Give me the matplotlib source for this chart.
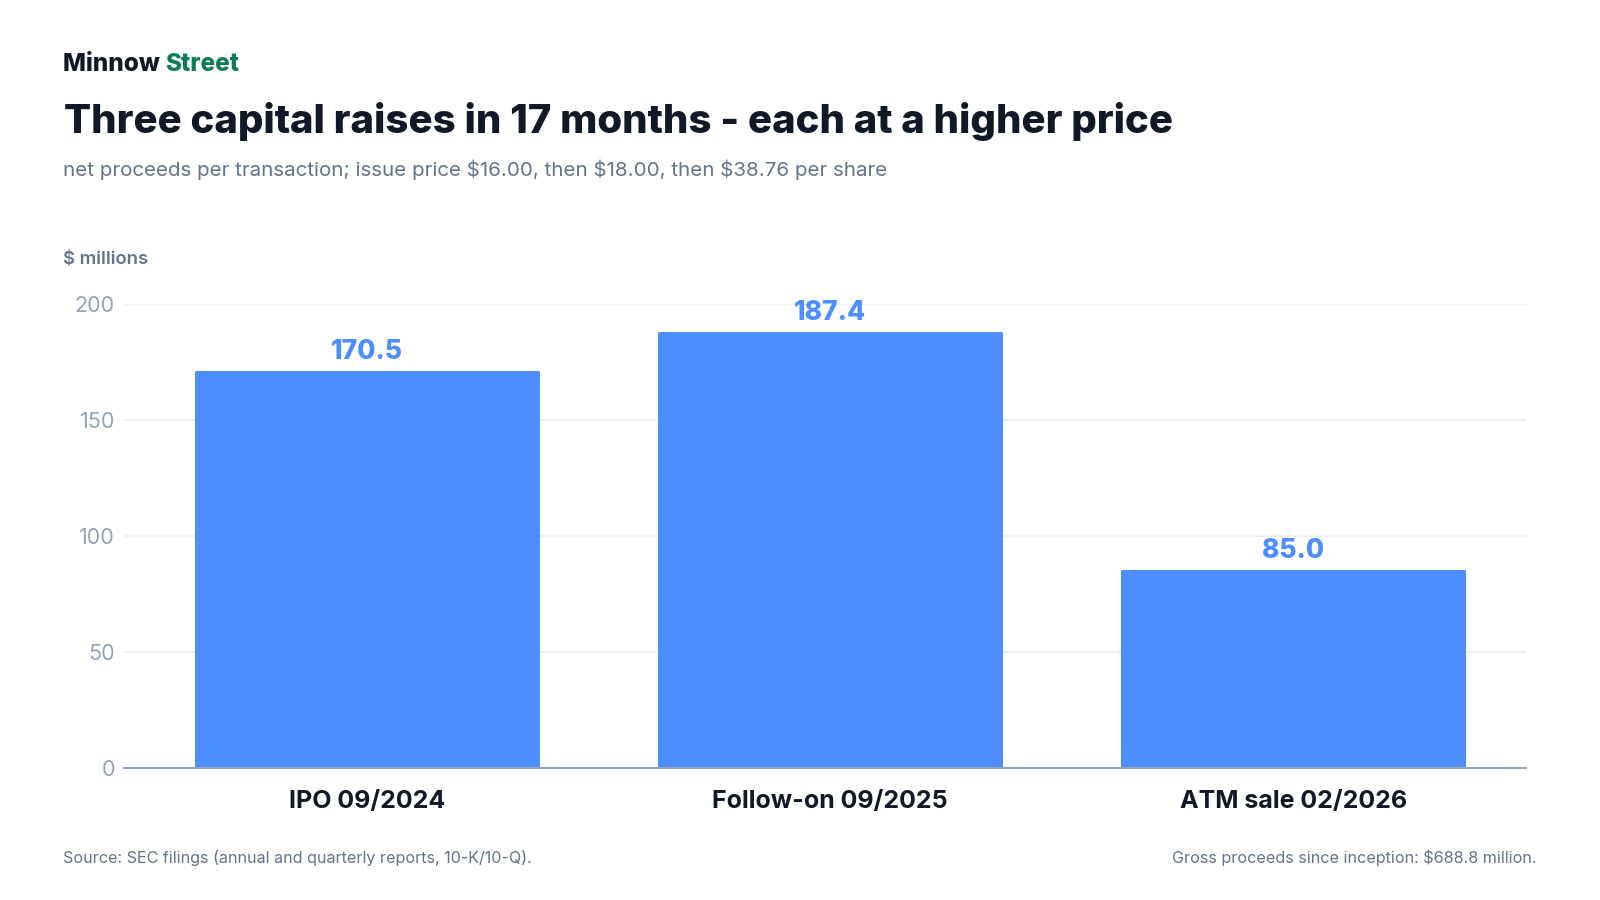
import matplotlib.pyplot as plt
import numpy as np

# data
categories = ['IPO 09/2024', 'Follow-on 09/2025', 'ATM sale 02/2026']
proceeds = [170.5, 187.4, 85.0]
value_labels = ['170.5', '187.4', '85.0']
y_ticks = [0, 50, 100, 150, 200]

blue = '#4c8dff'
dark = '#111827'
slate = '#64748b'
light = '#94a3b8'
green = '#0f7b5a'

plt.rcParams['font.family'] = ['Inter', 'DejaVu Sans']

fig = plt.figure(figsize=(16, 9), dpi=100)
fig.patch.set_facecolor('white')

W, H = 1600, 900
def fy(px):
    return 1 - px / H

# axes placed in pixels: x 124..1526, y 304..768
ax = fig.add_axes([124 / W, (H - 768) / H, (1526 - 124) / W, (768 - 304) / H])

x = np.arange(len(categories))
ax.bar(x, proceeds, width=0.738, color=blue, edgecolor=blue, linewidth=2.2,
       joinstyle='round', zorder=2)

ax.set_xlim(-0.525, 2.503)
ax.set_ylim(0, 200)
ax.set_yticks(y_ticks)
ax.set_yticklabels([str(t) for t in y_ticks])
ax.set_xticks([])
ax.tick_params(axis='y', length=0, pad=6.5, labelsize=15.5, labelcolor=light)

ax.grid(axis='y', color='#e9edf2', linewidth=1.2, zorder=0)
ax.set_axisbelow(True)
for s in ['top', 'right', 'left']:
    ax.spines[s].set_visible(False)
ax.spines['bottom'].set_color(light)
ax.spines['bottom'].set_linewidth(1.5)
ax.spines['bottom'].set_zorder(3)

for i, v in enumerate(proceeds):
    ax.annotate(value_labels[i], xy=(i, v), xytext=(0, 9.5), textcoords='offset points',
                ha='center', va='baseline', fontsize=19, fontweight=800, color=blue)
    ax.annotate(categories[i], xy=(i, 0), xycoords=('data', 'axes fraction'),
                xytext=(0, -29), textcoords='offset points',
                ha='center', va='baseline', fontsize=18, fontweight='bold', color=dark)

# header
t1 = fig.text(63 / W, fy(71), 'Minnow ', fontsize=17.5, fontweight=800, color=dark,
              va='baseline', ha='left')
fig.canvas.draw()
bb = t1.get_window_extent()
fig.text(bb.x1 / W, fy(71), 'Street', fontsize=17.5, fontweight=800, color=green,
         va='baseline', ha='left')

fig.text(64 / W, fy(133), 'Three capital raises in 17 months - each at a higher price',
         fontsize=28.9, fontweight=800, color=dark, va='baseline', ha='left')
fig.text(63 / W, fy(176),
         'net proceeds per transaction; issue price $16.00, then $18.00, then $38.76 per share',
         fontsize=14.8, color=slate, va='baseline', ha='left')
fig.text(63 / W, fy(264), '$ millions', fontsize=13.3, fontweight='semibold', color=slate,
         va='baseline', ha='left')

# footer
fig.text(63 / W, fy(863), 'Source: SEC filings (annual and quarterly reports, 10-K/10-Q).',
         fontsize=11.6, color=slate, va='baseline', ha='left')
fig.text(1537 / W, fy(863), 'Gross proceeds since inception: $688.8 million.',
         fontsize=11.6, color=slate, va='baseline', ha='right')

fig.savefig('out.png', dpi=100, facecolor='white')
